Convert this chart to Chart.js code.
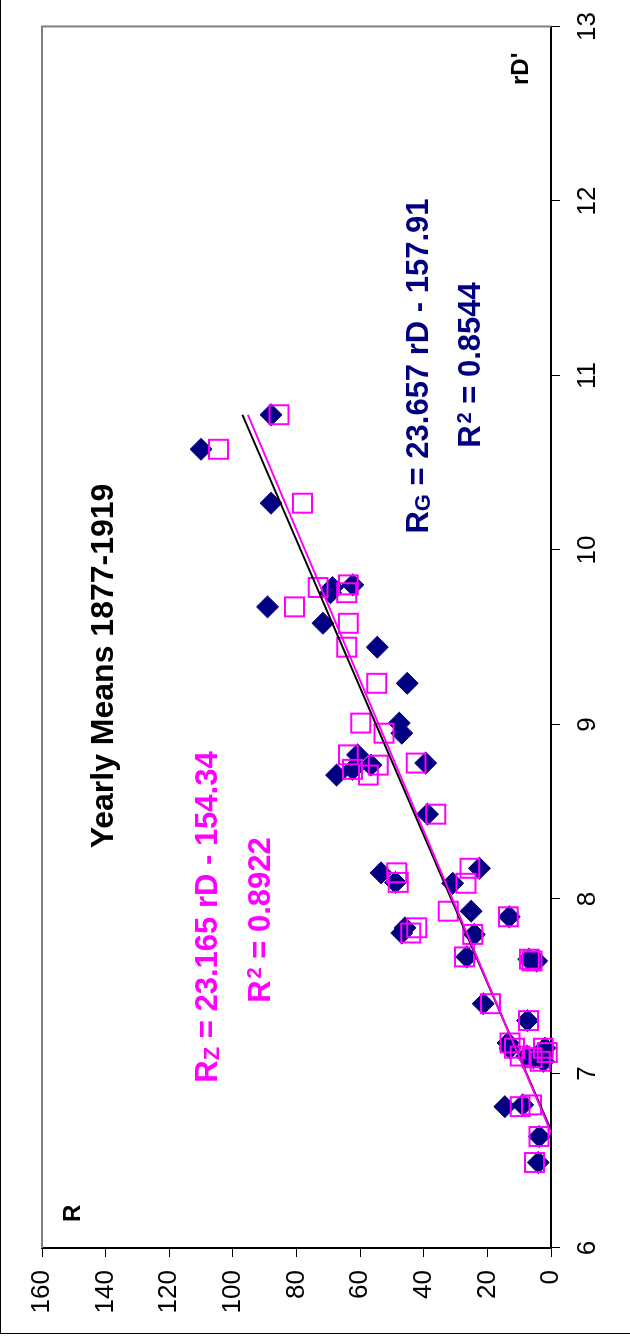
<!DOCTYPE html>
<html>
<head>
<meta charset="utf-8">
<script src="https://cdn.jsdelivr.net/npm/chart.js@4"></script>
<style>
  html, body { margin: 0; padding: 0; background: #fff; width: 630px; height: 1340px; overflow: hidden; }
  #frame { position: absolute; left: 0; top: -2px; width: 700px; height: 1335px;
           border-left: 1px solid #000; border-bottom: 1px solid #000; }
  /* the chart is laid out landscape and turned a quarter turn counter-clockwise */
  #wrap { position: absolute; left: 0; top: 0; width: 1340px; height: 630px;
          transform-origin: 0 0; transform: translate(0, 1340px) rotate(-90deg); }
</style>
</head>
<body>
<div id="frame"></div>
<div id="wrap"><canvas id="c" width="1340" height="630"></canvas></div>
<script>
// Yearly means 1877-1919: daily range of declination rD' and sunspot numbers
const rD = [10.775, 10.577, 10.268, 9.80, 9.785, 9.755, 9.674, 9.58, 9.443, 9.236,
            9.008, 8.95, 8.826, 8.779, 8.767, 8.743, 8.71, 8.486, 8.176, 8.15,
            8.095, 8.09, 7.93, 7.898, 7.835, 7.805, 7.797, 7.668, 7.655, 7.645,
            7.40, 7.303, 7.175, 7.145, 7.145, 7.12, 7.10, 7.09, 7.07, 6.82,
            6.81, 6.639, 6.49];
// Group sunspot number R_G
const rG = [88.0, 110.0, 88.0, 62.3, 68.7, 69.3, 89.1, 71.7, 54.6, 45.2,
            47.7, 46.9, 60.8, 39.4, 56.6, 62.3, 67.4, 38.8, 22.5, 53.4,
            48.9, 30.9, 25.1, 13.1, 45.9, 46.9, 24.1, 26.5, 7.0, 4.5,
            21.3, 7.4, 13.5, 12.9, 1.9, 3.0, 7.6, 5.5, 2.4, 8.9,
            14.5, 3.7, 4.0];
// Zurich sunspot number R_Z
const rZ = [85.5, 104.5, 78.1, 63.7, 73.2, 64.2, 80.6, 63.7, 64.2, 54.8,
            59.8, 52.5, 63.7, 42.4, 54.3, 62.4, 57.4, 36.2, 25.5, 48.5,
            48.0, 26.7, 32.3, 13.4, 42.2, 44.1, 24.6, 27.2, 6.8, 6.0,
            19.0, 7.1, 12.9, 11.5, 2.4, 1.2, 9.7, 6.0, 3.4, 6.1,
            9.7, 3.8, 5.2];

// axis ranges and tick steps
const xTicks = { min: 6, max: 13, step: 1 };
const yTicks = { min: 0, max: 160, step: 20 };

// least-squares fits printed on the chart
const fitG = { slope: 23.657, intercept: -157.91, r2: '0.8544' };
const fitZ = { slope: 23.165, intercept: -154.34, r2: '0.8922' };

const NAVY = '#000080';
const MAGENTA = '#FF00FF';
const FONT = "'Liberation Sans', Arial, Helvetica, sans-serif";

const pts = (ys) => rD.map((x, i) => ({ x, y: ys[i] }));
const xLo = Math.min(...rD), xHi = Math.max(...rD);
const fitLine = (f) => [xLo, xHi].map(x => ({ x, y: f.slope * x + f.intercept }));

// grey frame on the two open sides of the plot area
const plotFrame = {
  id: 'plotFrame',
  beforeDatasetsDraw(chart) {
    const { ctx, chartArea: a } = chart;
    ctx.save();
    ctx.strokeStyle = '#808080';
    ctx.lineWidth = 2;
    ctx.beginPath();
    ctx.moveTo(a.left, a.top);
    ctx.lineTo(a.right, a.top);
    ctx.lineTo(a.right, a.bottom);
    ctx.stroke();
    ctx.restore();
  }
};

function drawRuns(ctx, runs, cx, baseY, color) {
  let total = 0;
  runs.forEach(r => { ctx.font = r.font; r.w = ctx.measureText(r.text).width + (r.gap || 0); total += r.w; });
  let x = cx - total / 2;
  ctx.fillStyle = color;
  ctx.textAlign = 'left';
  ctx.textBaseline = 'alphabetic';
  runs.forEach(r => { ctx.font = r.font; ctx.fillText(r.text, x + (r.gap || 0), baseY + (r.dy || 0)); x += r.w; });
}

const B31 = 'bold 31px ' + FONT;
const SUB = 'bold 22px ' + FONT;
const SUP = 'bold 20px ' + FONT;

const labels = {
  id: 'labels',
  afterDraw(chart) {
    const { ctx } = chart;
    ctx.save();
    drawRuns(ctx, [{ text: "Yearly Means 1877-1919", font: 'bold 32px ' + FONT }], 674, 113, '#000');

    drawRuns(ctx, [
      { text: 'R', font: B31 }, { text: 'Z', font: SUB, dy: 2 },
      { text: ' = ' + fitZ.slope + ' rD - ' + Math.abs(fitZ.intercept).toFixed(2), font: B31 }
    ], 423, 217, MAGENTA);
    drawRuns(ctx, [
      { text: 'R', font: B31 }, { text: '2', font: SUP, dy: -9, gap: 2 },
      { text: ' = ' + fitZ.r2, font: B31 }
    ], 420, 270, MAGENTA);

    drawRuns(ctx, [
      { text: 'R', font: B31 }, { text: 'G', font: SUB, dy: 2 },
      { text: ' = ' + fitG.slope + ' rD - ' + Math.abs(fitG.intercept).toFixed(2), font: B31 }
    ], 974, 428, NAVY);
    drawRuns(ctx, [
      { text: 'R', font: B31 }, { text: '2', font: SUP, dy: -9, gap: 2 },
      { text: ' = ' + fitG.r2, font: B31 }
    ], 975, 480, NAVY);

    ctx.fillStyle = '#000';
    ctx.font = 'bold 24px ' + FONT;
    ctx.textAlign = 'left';
    ctx.fillText('R', 118, 80);
    ctx.fillText("rD'", 1255, 528);
    ctx.restore();
  }
};

const axisCommon = {
  type: 'linear',
  grid: { drawOnChartArea: false, drawTicks: true, tickLength: 9, tickColor: '#000', tickWidth: 1 },
  border: { display: true, color: '#000', width: 2 },
};

new Chart(document.getElementById('c'), {
  type: 'scatter',
  data: {
    datasets: [
      { label: 'R_Z fit', data: fitLine(fitZ), showLine: true, borderColor: MAGENTA, borderWidth: 2,
        pointRadius: 0, fill: false, clip: 0, order: 0 },
      { label: 'R_G fit', data: fitLine(fitG), showLine: true, borderColor: '#000', borderWidth: 2,
        pointRadius: 0, fill: false, clip: 0, order: 1 },
      { label: 'R_Z', data: pts(rZ), pointStyle: 'rect', pointRadius: 13.4, borderColor: MAGENTA,
        backgroundColor: 'rgba(0,0,0,0)', borderWidth: 2, clip: false, order: 2 },
      { label: 'R_G', data: pts(rG), pointStyle: 'rectRot', pointRadius: 11, borderColor: NAVY,
        backgroundColor: NAVY, borderWidth: 1, clip: false, order: 3 },
    ]
  },
  options: {
    responsive: false,
    animation: false,
    devicePixelRatio: 1,
    events: [],
    layout: { padding: { left: 0, right: 26, top: 42, bottom: 0 } },
    plugins: { legend: { display: false }, tooltip: { enabled: false } },
    scales: {
      x: Object.assign({}, axisCommon, {
        position: 'bottom', min: xTicks.min, max: xTicks.max,
        ticks: { stepSize: xTicks.step, color: '#000', font: { family: FONT, size: 26 }, padding: 12, maxRotation: 0 },
        afterFit: s => { s.height = 79; }
      }),
      y: Object.assign({}, axisCommon, {
        position: 'left', min: yTicks.min, max: yTicks.max,
        ticks: { stepSize: yTicks.step, color: '#000', font: { family: FONT, size: 26 }, padding: 13 },
        afterFit: s => { s.width = 92; }
      })
    }
  },
  plugins: [plotFrame, labels]
});
</script>
</body>
</html>
